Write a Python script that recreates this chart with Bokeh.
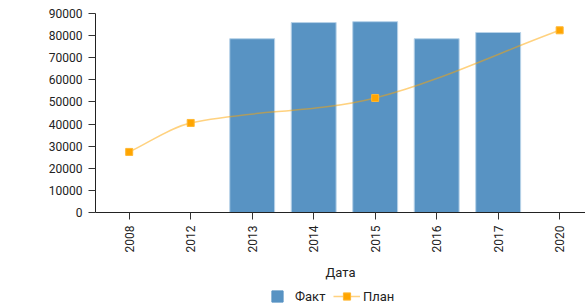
import math
from bokeh.plotting import figure
from bokeh.layouts import column
from bokeh.models import (Range1d, FixedTicker, ColumnDataSource, Legend, LegendItem,
                          BasicTickFormatter)
from bokeh.embed import file_html
from bokeh.resources import INLINE

# ---- data ----
years = ["2008", "2012", "2013", "2014", "2015", "2016", "2017", "2020"]
fact = [None, None, 78600, 85900, 86300, 78600, 81400, None]
plan = [27400, 40500, None, None, 51800, None, None, 82400]
y_ticks = [0, 10000, 20000, 30000, 40000, 50000, 60000, 70000, 80000, 90000]

FONT = "Roboto"
BAR = "#5893C3"
ORANGE = "#FFA500"
idx = list(range(len(years)))

p = figure(frame_width=490, frame_height=199, output_backend="svg", toolbar_location=None,
           x_range=Range1d(-0.548, 7.42), y_range=Range1d(0, 90000),
           min_border_left=95, min_border_right=0, min_border_top=13, min_border_bottom=0)
p.outline_line_color = None
p.xgrid.grid_line_color = None
p.ygrid.grid_line_color = None

# bars
fx = [i for i, v in zip(idx, fact) if v is not None]
fv = [v for v in fact if v is not None]
bars = p.vbar(x=fx, top=fv, width=0.73, fill_color=BAR, line_color="#B7D2E8", line_width=1)

# plan: smooth curve (cubic Hermite via bezier control points derived from data)
px = [i for i, v in zip(idx, plan) if v is not None]
pv = [v for v in plan if v is not None]
n = len(px)
m = []
for i in range(n):
    if i == 0:
        m.append((pv[1] - pv[0]) / (px[1] - px[0]))
    elif i == n - 1:
        m.append((pv[-1] - pv[-2]) / (px[-1] - px[-2]))
    else:
        m.append((pv[i + 1] - pv[i - 1]) / (px[i + 1] - px[i - 1]))
bz = dict(x0=[], y0=[], x1=[], y1=[], cx0=[], cy0=[], cx1=[], cy1=[])
for i in range(n - 1):
    h = px[i + 1] - px[i]
    bz["x0"].append(px[i]); bz["y0"].append(pv[i])
    bz["x1"].append(px[i + 1]); bz["y1"].append(pv[i + 1])
    bz["cx0"].append(px[i] + h / 3); bz["cy0"].append(pv[i] + m[i] * h / 3)
    bz["cx1"].append(px[i + 1] - h / 3); bz["cy1"].append(pv[i + 1] - m[i + 1] * h / 3)
p.bezier(source=ColumnDataSource(bz), x0="x0", y0="y0", x1="x1", y1="y1",
         cx0="cx0", cy0="cy0", cx1="cx1", cy1="cy1",
         line_color=ORANGE, line_alpha=0.5, line_width=1.5)
marks = p.scatter(x=px, y=pv, marker="square", size=7, fill_color=ORANGE,
                  line_color="#FFB732", line_width=1)

# axes
p.yaxis.ticker = FixedTicker(ticks=y_ticks)
p.yaxis.formatter = BasicTickFormatter(use_scientific=False)
p.xaxis.ticker = FixedTicker(ticks=idx)
p.xaxis.major_label_overrides = {i: y for i, y in zip(idx, years)}
p.xaxis.major_label_orientation = math.pi / 2
p.xaxis.axis_label = "Дата"
for ax in (p.xaxis, p.yaxis):
    ax.axis_line_color = "#222222"
    ax.axis_line_width = 1
    ax.major_tick_line_color = "#333333"
    ax.major_tick_out = 7
    ax.major_tick_in = 0
    ax.minor_tick_line_color = None
    ax.major_label_text_font = FONT
    ax.major_label_text_font_size = "12px"
    ax.major_label_text_color = "#222222"
    ax.major_label_standoff = 6
p.xaxis.axis_label_text_font = FONT
p.xaxis.axis_label_text_font_size = "13px"
p.xaxis.axis_label_text_font_style = "normal"
p.xaxis.axis_label_text_color = "#222222"
p.xaxis.axis_label_standoff = 10

# legend strip (separate small figure; legend renderers hidden, drawn only in legend)
q = figure(frame_width=490, frame_height=20, output_backend="svg", toolbar_location=None,
           x_range=p.x_range, y_range=p.y_range, x_axis_location=None, y_axis_location=None,
           min_border_left=95, min_border_right=0, min_border_top=0, min_border_bottom=0)
q.outline_line_color = None
q.xgrid.grid_line_color = None
q.ygrid.grid_line_color = None
lg_bar = q.scatter(x=fx, y=fv, marker="square", size=12, fill_color=BAR, line_color=BAR, visible=False)
lg_line = q.line(x=px, y=pv, line_color=ORANGE, line_alpha=0.5, line_width=1.5, visible=False)
lg_mark = q.scatter(x=px, y=pv, marker="square", size=7, fill_color=ORANGE,
                    line_color="#FFB732", line_width=1, visible=False)


def style(lg):
    lg.border_line_color = None
    lg.background_fill_alpha = 0
    lg.inactive_fill_alpha = 0
    lg.padding = 0
    lg.margin = 0
    lg.label_text_font = FONT
    lg.label_text_font_size = "13px"
    lg.label_text_color = "#222222"
    lg.label_height = 12


lg1 = Legend(items=[LegendItem(label="Факт", renderers=[lg_bar])], location=(168, -7))
style(lg1)
lg1.glyph_width = 28
lg1.glyph_height = 28
lg1.label_standoff = 4
lg2 = Legend(items=[LegendItem(label="План", renderers=[lg_line, lg_mark])], location=(238, -2))
style(lg2)
lg2.glyph_width = 27
lg2.glyph_height = 18
lg2.label_standoff = 3
q.add_layout(lg1, "center")
q.add_layout(lg2, "center")

open("out.html", "w").write(file_html(column(p, q, spacing=0), INLINE))
